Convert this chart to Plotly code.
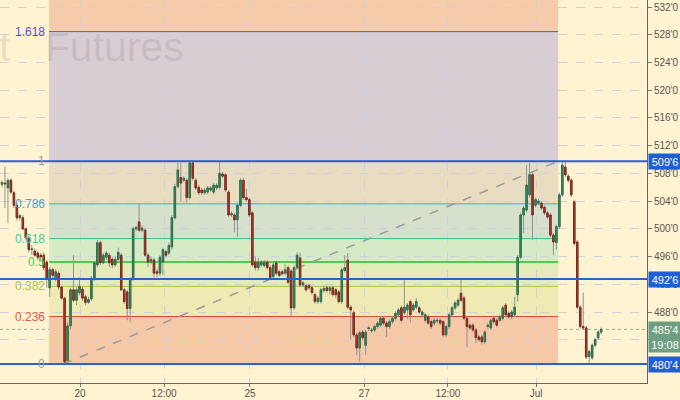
import plotly.graph_objects as go

# ---------------- data ----------------
opens = [506.4, 506.6, 505.9, 507.0, 505.2, 503.4, 501.6, 501.6, 500.0, 498.7,
         497.0, 496.8, 496.5, 496.2, 496.2, 495.2, 491.5, 494.1, 492.8, 493.6,
         491.6, 490.0, 481.0, 486.0, 491.2, 489.7, 490.8, 491.3, 490.2, 489.4,
         489.9, 492.9, 494.8, 498.0, 495.1, 495.9, 496.2, 495.6, 494.8, 495.6,
         496.2, 491.2, 490.9, 488.5, 492.9, 500.0, 501.0, 499.8, 499.8, 496.2,
         495.2, 495.5, 493.8, 493.6, 495.2, 496.7, 496.5, 497.4, 501.6, 506.1,
         507.4, 507.0, 507.0, 504.5, 509.5, 507.0, 506.0, 505.6, 505.2, 505.3,
         505.6, 505.3, 505.9, 506.0, 507.9, 507.8, 505.3, 502.0, 502.0, 501.3,
         503.4, 507.0, 504.5, 504.2, 502.3, 495.2, 494.4, 494.8, 494.7, 495.2,
         494.4, 493.1, 495.1, 493.8, 493.8, 493.6, 494.4, 493.9, 488.6, 494.4,
         495.8, 491.9, 491.8, 491.8, 491.5, 490.5, 489.5, 489.5, 491.1, 491.5,
         491.1, 491.5, 491.2, 490.9, 489.5, 494.0, 495.5, 488.7, 487.9, 484.7,
         482.8, 485.1, 483.2, 485.6, 485.3, 485.4, 485.9, 486.1, 487.1, 486.4,
         485.9, 486.6, 487.1, 487.6, 488.6, 487.9, 488.3, 489.5, 488.3, 488.7,
         488.6, 487.6, 486.8, 487.3, 486.6, 486.4, 486.7, 486.8, 486.6, 484.7,
         485.9, 487.6, 488.6, 489.0, 490.7, 490.0, 487.1, 486.1, 486.1, 485.4,
         484.4, 484.4, 483.7, 485.9, 485.7, 487.1, 486.8, 486.8, 487.1, 489.0,
         487.8, 487.3, 487.6, 490.5, 495.9, 502.0, 502.7, 504.9, 507.8, 503.4,
         503.7, 503.7, 503.1, 502.3, 502.0, 499.1, 498.0, 500.3, 504.9, 508.9,
         507.6, 507.0, 503.9, 498.1, 488.7, 485.9, 485.7, 481.6, 481.4, 483.2,
         484.3, 485.1]
highs = [507.0, 509.0, 507.3, 507.3, 505.5, 503.8, 502.2, 502.0, 500.2, 499.0,
         497.7, 497.2, 496.8, 496.5, 496.6, 495.5, 494.5, 494.4, 494.2, 493.9,
         491.8, 490.2, 486.5, 491.5, 496.2, 491.6, 493.0, 491.6, 490.5, 490.2,
         493.2, 495.3, 498.4, 498.3, 496.5, 496.8, 496.5, 495.9, 496.0, 497.3,
         496.5, 491.5, 491.2, 493.0, 500.3, 500.5, 503.7, 500.5, 500.1, 496.5,
         496.0, 495.8, 494.2, 496.2, 497.3, 497.0, 498.0, 502.0, 506.5, 509.5,
         509.5, 507.6, 507.3, 509.75, 509.6, 507.3, 506.3, 505.9, 505.9, 506.2,
         506.2, 506.6, 506.6, 509.6, 508.2, 508.0, 505.6, 502.5, 502.3, 503.7,
         507.3, 507.3, 505.8, 504.5, 502.6, 496.0, 495.8, 495.5, 495.5, 495.5,
         494.7, 495.1, 495.4, 494.1, 494.1, 495.0, 494.7, 494.2, 494.7, 496.6,
         496.6, 492.5, 492.1, 492.1, 491.8, 490.8, 490.3, 491.5, 491.7, 491.8,
         491.8, 491.8, 491.5, 491.2, 494.4, 496.2, 496.5, 489.0, 488.2, 485.0,
         485.3, 485.4, 485.4, 486.0, 485.7, 486.2, 486.7, 487.4, 487.4, 486.7,
         486.9, 487.4, 488.1, 488.6, 488.9, 492.6, 489.3, 489.8, 489.3, 490.0,
         488.9, 488.3, 487.9, 487.6, 486.9, 487.1, 487.1, 487.1, 486.9, 486.2,
         487.9, 488.9, 489.6, 490.0, 492.6, 490.3, 487.4, 486.4, 486.4, 485.7,
         484.7, 484.7, 485.4, 486.4, 487.1, 487.4, 487.1, 487.6, 488.9, 489.3,
         488.1, 488.3, 490.2, 496.2, 502.3, 503.3, 509.2, 509.5, 508.1, 504.5,
         504.3, 504.0, 503.4, 502.6, 502.3, 499.4, 500.6, 505.2, 509.75, 509.75,
         507.9, 507.3, 504.2, 498.4, 489.0, 490.8, 486.0, 482.6, 483.5, 484.3,
         485.4, 485.8]
lows = [506.0, 503.0, 500.8, 505.0, 503.0, 501.2, 501.2, 499.8, 498.4, 496.6,
        496.2, 496.0, 495.5, 495.4, 494.0, 491.5, 490.2, 492.6, 492.4, 491.2,
        489.8, 480.5, 480.6, 485.5, 489.4, 489.0, 490.4, 489.6, 489.0, 489.2,
        489.6, 492.5, 494.5, 494.8, 494.9, 495.5, 494.5, 494.3, 494.5, 495.4,
        491.0, 489.2, 486.8, 486.5, 492.5, 499.7, 499.5, 499.5, 496.0, 494.5,
        494.9, 493.0, 493.0, 493.2, 493.3, 495.9, 496.2, 497.0, 501.3, 505.8,
        503.9, 506.7, 503.8, 504.2, 507.0, 505.6, 504.9, 504.9, 504.9, 505.0,
        505.3, 505.0, 505.6, 505.7, 507.3, 505.3, 501.7, 501.7, 499.5, 498.8,
        503.1, 504.2, 503.9, 501.7, 494.5, 494.0, 494.0, 494.5, 494.4, 494.1,
        492.7, 492.8, 493.3, 493.0, 493.3, 493.3, 492.0, 487.3, 488.3, 494.1,
        491.6, 491.6, 490.9, 491.2, 490.5, 489.2, 489.2, 489.2, 490.8, 490.8,
        490.5, 490.2, 490.0, 489.2, 489.2, 493.7, 488.4, 484.0, 484.4, 481.8,
        480.8, 484.0, 481.8, 485.3, 485.0, 485.1, 485.6, 485.8, 486.1, 484.4,
        485.6, 486.3, 486.8, 487.3, 486.5, 487.6, 487.0, 486.5, 488.0, 488.4,
        487.7, 487.3, 486.5, 486.1, 485.6, 486.1, 486.4, 486.1, 484.4, 484.4,
        485.6, 487.3, 488.3, 488.7, 489.4, 486.8, 482.9, 485.4, 485.1, 483.5,
        483.7, 483.3, 483.4, 485.6, 485.4, 486.3, 485.8, 486.5, 486.8, 487.3,
        487.0, 487.0, 487.3, 489.5, 495.6, 499.4, 502.4, 504.5, 498.4, 503.1,
        503.4, 502.7, 502.0, 501.4, 498.8, 496.2, 497.0, 500.0, 504.6, 507.5,
        506.7, 504.6, 497.6, 488.4, 485.6, 485.4, 481.2, 480.5, 481.1, 482.9,
        484.0, 484.8]
closes = [506.7, 506.5, 507.0, 505.3, 503.4, 501.6, 501.9, 500.0, 498.7, 497.0,
          497.1, 496.2, 495.9, 495.9, 494.4, 492.8, 494.1, 493.3, 493.8, 491.6,
          490.0, 480.8, 486.0, 491.2, 489.7, 491.2, 491.7, 490.0, 489.4, 489.8,
          492.9, 495.1, 498.0, 495.1, 496.2, 496.5, 495.1, 494.8, 495.6, 496.6,
          491.2, 489.5, 488.5, 492.6, 500.0, 500.2, 499.8, 500.1, 496.2, 495.2,
          495.6, 493.6, 493.6, 495.9, 497.0, 496.2, 497.6, 501.6, 506.1, 508.5,
          506.6, 507.3, 504.5, 509.5, 507.3, 505.9, 505.2, 505.2, 505.6, 505.9,
          505.9, 506.3, 506.3, 508.0, 507.6, 505.6, 502.0, 502.2, 501.3, 503.4,
          507.0, 504.5, 504.2, 502.0, 494.8, 494.4, 495.2, 495.2, 495.2, 494.4,
          493.0, 494.8, 493.6, 493.3, 493.6, 494.1, 492.3, 488.6, 494.4, 496.2,
          491.9, 492.2, 491.2, 491.5, 490.8, 489.5, 490.0, 491.2, 491.4, 491.1,
          491.5, 490.5, 490.5, 489.5, 494.1, 494.4, 488.7, 488.3, 484.7, 482.8,
          485.0, 484.3, 485.1, 485.7, 485.4, 485.9, 486.4, 487.1, 486.4, 485.9,
          486.6, 487.1, 487.8, 488.3, 486.8, 488.7, 489.0, 487.6, 489.0, 489.5,
          488.0, 488.0, 487.6, 486.4, 485.9, 486.8, 486.8, 486.4, 484.7, 485.9,
          487.6, 488.6, 489.3, 489.7, 489.7, 487.1, 485.9, 485.7, 485.4, 484.3,
          484.0, 483.7, 485.1, 486.1, 486.8, 486.6, 486.1, 487.3, 488.6, 487.6,
          487.3, 488.0, 488.7, 495.9, 502.0, 503.0, 506.3, 507.8, 502.0, 504.2,
          504.0, 503.0, 502.3, 501.7, 499.1, 498.1, 500.3, 504.9, 509.2, 507.8,
          507.0, 504.9, 497.9, 488.7, 485.9, 485.7, 481.5, 482.3, 483.2, 484.0,
          485.1, 485.5]

x_tick_pos = [26.2, 54.4, 83.2, 121.5, 149.6, 179.2]
x_tick_text = ["20", "12:00", "25", "27", "12:00", "Jul"]
price_ticks = [484, 488, 492, 496, 500, 504, 508, 512, 516, 520, 524, 528, 532]

# Fibonacci retracement (level prices as drawn on the chart)
fib_labels = ["0", "0.236", "0.382", "0.5", "0.618", "0.786", "1", "1.618"]
fib_prices = [480.5, 487.35, 491.7, 495.2, 498.6, 503.6, 509.75, 528.45]
fib_line_colors = ["#8c8c8c", "#e0483a", "#9fcb3a", "#4fcc4f", "#3cc39a",
                   "#4aa0d8", "#8c8c8c", "#5b4fd0"]
fib_label_colors = ["#9a9a9a", "#e0584a", "#a8c840", "#4fcc4f", "#40c8a0",
                    "#4aa0d8", "#9a9a9a", "#5b4fd0"]
fib_band_colors = ["#f5c9a8", "#efe9b4", "#e3ebb9", "#d6ebc5", "#d6e1cd",
                   "#e9ddc1", "#d8cdd3", "#f5cba9"]
fib_x0, fib_x1 = 15.8, 186.6
trend_x0, trend_x1 = 20.5, 186.6

blue_levels = [509.75, 492.75, 480.5]
countdown_text = "19:08"
watermark_text = "Wheat\u00a0\u00a0\u00a0Futures"

# ---------------- helpers ----------------
def fmt(p):
    whole = int(p)
    eighths = int(round((p - whole) * 8))
    return f"{whole}'{eighths}"

BG = "#fff3d1"
Y_RANGE = [477.76, 533.01]
X_RANGE = [-0.67, 216.4]

xs = list(range(len(opens)))
body_hi = [max(o, c) for o, c in zip(opens, closes)]
body_lo = [min(o, c) for o, c in zip(opens, closes)]

fig = go.Figure()
# wicks
fig.add_trace(go.Candlestick(
    x=xs, open=opens, high=highs, low=lows, close=closes,
    increasing=dict(line=dict(color="#8f958f", width=1), fillcolor="#8f958f"),
    decreasing=dict(line=dict(color="#958f8d", width=1), fillcolor="#958f8d"),
    whiskerwidth=0, hoverinfo="skip"))
# bodies
fig.add_trace(go.Candlestick(
    x=xs, open=opens, high=body_hi, low=body_lo, close=closes,
    increasing=dict(line=dict(color="#2f6f4a", width=1), fillcolor="#3f9062"),
    decreasing=dict(line=dict(color="#7e2a1c", width=1), fillcolor="#b23e2a"),
    whiskerwidth=0, hoverinfo="skip"))

shapes = []
for i, col in enumerate(fib_band_colors):
    y0 = fib_prices[i]
    y1 = fib_prices[i + 1] if i + 1 < len(fib_prices) else Y_RANGE[1] + 5
    shapes.append(dict(type="rect", xref="x", yref="y", x0=fib_x0, x1=fib_x1,
                       y0=y0, y1=y1, fillcolor=col, line=dict(width=0),
                       layer="below"))
for lv, col, lab in zip(fib_prices, fib_line_colors, fib_labels):
    shapes.append(dict(type="line", xref="x", yref="y", x0=fib_x0, x1=fib_x1,
                       y0=lv, y1=lv, line=dict(color=col, width=2 if lab == "0.5" else 1),
                       layer="between"))
shapes.append(dict(type="line", xref="x", yref="y", x0=trend_x0, x1=trend_x1,
                   y0=fib_prices[0], y1=fib_prices[6],
                   line=dict(color="#9a9a9a", width=1.5, dash="dash"), layer="between"))
last_price = closes[-1]
shapes.append(dict(type="line", xref="paper", yref="y", x0=0, x1=1,
                   y0=last_price, y1=last_price,
                   line=dict(color="#7fae8f", width=1, dash="dot"), layer="between"))
for lv in blue_levels:
    shapes.append(dict(type="line", xref="paper", yref="y", x0=0, x1=1,
                       y0=lv, y1=lv, line=dict(color="#2a62d4", width=2),
                       layer="above"))

annotations = []
for lv, lab, col in zip(fib_prices, fib_labels, fib_label_colors):
    annotations.append(dict(x=fib_x0, y=lv, xref="x", yref="y", text=lab,
                            showarrow=False, xanchor="right", yanchor="middle",
                            xshift=-2, font=dict(family="Liberation Sans", size=12, color=col)))
for lv in blue_levels:
    annotations.append(dict(x=1, y=lv, xref="paper", yref="y", text=fmt(lv),
                            showarrow=False, xanchor="left", yanchor="middle",
                            xshift=1, bgcolor="#1f5fd6", width=30, height=13,
                            font=dict(family="Liberation Sans", size=11, color="white")))
annotations.append(dict(x=1, y=last_price, xref="paper", yref="y", text=fmt(last_price),
                        showarrow=False, xanchor="left", yanchor="middle",
                        xshift=1, bgcolor="#6d9e80", width=30, height=13,
                        font=dict(family="Liberation Sans", size=11, color="white")))
annotations.append(dict(x=1, y=last_price, xref="paper", yref="y", text=countdown_text,
                        showarrow=False, xanchor="left", yanchor="middle",
                        xshift=1, yshift=-15, bgcolor="#6d9e80", width=30, height=13,
                        font=dict(family="Liberation Sans", size=11, color="white")))
annotations.append(dict(x=186 / 647, y=1 - 47 / 383, xref="paper", yref="paper",
                        text=watermark_text, showarrow=False, xanchor="right",
                        yanchor="middle",
                        font=dict(family="Liberation Sans", size=41,
                                  color="rgba(110,100,110,0.16)")))

fig.update_layout(
    width=680, height=400,
    margin=dict(l=0, r=33, t=0, b=17),
    paper_bgcolor=BG, plot_bgcolor=BG,
    showlegend=False,
    shapes=shapes, annotations=annotations,
    xaxis=dict(range=X_RANGE, rangeslider=dict(visible=False),
               tickvals=x_tick_pos, ticktext=x_tick_text,
               showgrid=True, gridcolor="#cfcfe0", griddash="dash", gridwidth=1,
               ticks="outside", ticklen=3, tickcolor="#777",
               ticklabelstandoff=-2,
               showline=True, linecolor="#666", linewidth=1,
               zeroline=False, automargin=False,
               tickfont=dict(family="Liberation Sans", size=10, color="#555")),
    yaxis=dict(range=Y_RANGE, side="right",
               tickvals=price_ticks, ticktext=[fmt(p) for p in price_ticks],
               showgrid=True, gridcolor="#cfcfe0", griddash="dash", gridwidth=1,
               ticks="outside", ticklen=4, tickcolor="#777",
               showline=True, linecolor="#666", linewidth=1,
               zeroline=False, automargin=False,
               tickfont=dict(family="Liberation Sans", size=10, color="#555")),
)

fig.write_html("out.html",
               config={"displayModeBar": False},
               post_script="document.body.style.margin='0px';"
                           "document.body.style.overflow='hidden';")
